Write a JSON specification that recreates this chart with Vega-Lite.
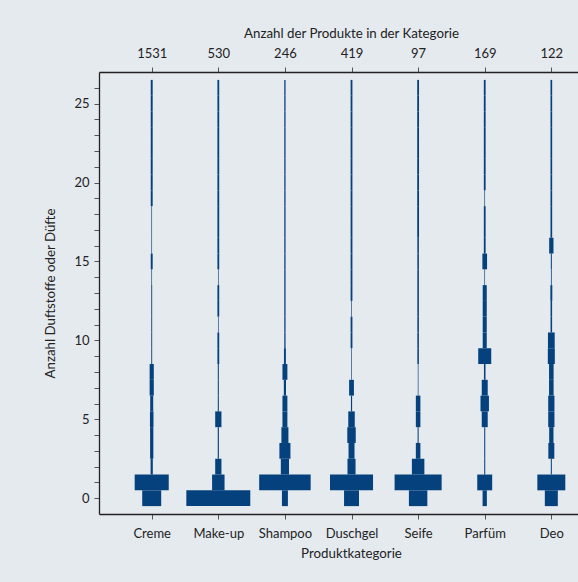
{
  "$schema": "https://vega.github.io/schema/vega-lite/v6.json",
  "width": 479,
  "height": 442,
  "autosize": {"type": "none"},
  "padding": {"left": 99, "top": 72, "right": 0, "bottom": 68},
  "background": "#e5eaef",
  "config": {
    "view": {"stroke": null},
    "font": "Lato",
    "axis": {
      "grid": false,
      "domainColor": "#222222",
      "domainWidth": 1.3,
      "tickColor": "#555555",
      "tickSize": 5,
      "tickWidth": 1,
      "labelFont": "Lato",
      "labelFontSize": 13,
      "labelColor": "#222222",
      "labelPadding": 5,
      "titleFont": "Lato",
      "titleFontSize": 13.3,
      "titleFontWeight": "normal",
      "titleColor": "#222222"
    }
  },
  "datasets": {
    "verteilung": [
      {"kategorie": "Creme", "duftstoffe": 0, "anteil": 14.6},
      {"kategorie": "Creme", "duftstoffe": 1, "anteil": 26.2},
      {"kategorie": "Creme", "duftstoffe": 2, "anteil": 1.7},
      {"kategorie": "Creme", "duftstoffe": 3, "anteil": 2.5},
      {"kategorie": "Creme", "duftstoffe": 4, "anteil": 2.5},
      {"kategorie": "Creme", "duftstoffe": 5, "anteil": 2.7},
      {"kategorie": "Creme", "duftstoffe": 6, "anteil": 2.3},
      {"kategorie": "Creme", "duftstoffe": 7, "anteil": 3.2},
      {"kategorie": "Creme", "duftstoffe": 8, "anteil": 3.2},
      {"kategorie": "Creme", "duftstoffe": 9, "anteil": 0.7},
      {"kategorie": "Creme", "duftstoffe": 10, "anteil": 0.7},
      {"kategorie": "Creme", "duftstoffe": 11, "anteil": 0.7},
      {"kategorie": "Creme", "duftstoffe": 12, "anteil": 0.7},
      {"kategorie": "Creme", "duftstoffe": 13, "anteil": 0.7},
      {"kategorie": "Creme", "duftstoffe": 14, "anteil": 0.5},
      {"kategorie": "Creme", "duftstoffe": 15, "anteil": 1.5},
      {"kategorie": "Creme", "duftstoffe": 16, "anteil": 0.5},
      {"kategorie": "Creme", "duftstoffe": 17, "anteil": 0.5},
      {"kategorie": "Creme", "duftstoffe": 18, "anteil": 0.5},
      {"kategorie": "Creme", "duftstoffe": 19, "anteil": 1.5},
      {"kategorie": "Creme", "duftstoffe": 20, "anteil": 1.5},
      {"kategorie": "Creme", "duftstoffe": 21, "anteil": 1.5},
      {"kategorie": "Creme", "duftstoffe": 22, "anteil": 1.5},
      {"kategorie": "Creme", "duftstoffe": 23, "anteil": 1.5},
      {"kategorie": "Creme", "duftstoffe": 24, "anteil": 1.5},
      {"kategorie": "Creme", "duftstoffe": 25, "anteil": 1.5},
      {"kategorie": "Creme", "duftstoffe": 26, "anteil": 1.5},

      {"kategorie": "Make-up", "duftstoffe": 0, "anteil": 49.2},
      {"kategorie": "Make-up", "duftstoffe": 1, "anteil": 9.6},
      {"kategorie": "Make-up", "duftstoffe": 2, "anteil": 4.8},
      {"kategorie": "Make-up", "duftstoffe": 3, "anteil": 0.9},
      {"kategorie": "Make-up", "duftstoffe": 4, "anteil": 0.9},
      {"kategorie": "Make-up", "duftstoffe": 5, "anteil": 4.8},
      {"kategorie": "Make-up", "duftstoffe": 6, "anteil": 0.8},
      {"kategorie": "Make-up", "duftstoffe": 7, "anteil": 0.8},
      {"kategorie": "Make-up", "duftstoffe": 8, "anteil": 0.8},
      {"kategorie": "Make-up", "duftstoffe": 9, "anteil": 1.4},
      {"kategorie": "Make-up", "duftstoffe": 10, "anteil": 1.4},
      {"kategorie": "Make-up", "duftstoffe": 11, "anteil": 0.5},
      {"kategorie": "Make-up", "duftstoffe": 12, "anteil": 1.4},
      {"kategorie": "Make-up", "duftstoffe": 13, "anteil": 1.4},
      {"kategorie": "Make-up", "duftstoffe": 14, "anteil": 0.5},
      {"kategorie": "Make-up", "duftstoffe": 15, "anteil": 1.4},
      {"kategorie": "Make-up", "duftstoffe": 16, "anteil": 1.4},
      {"kategorie": "Make-up", "duftstoffe": 17, "anteil": 1.4},
      {"kategorie": "Make-up", "duftstoffe": 18, "anteil": 1.4},
      {"kategorie": "Make-up", "duftstoffe": 19, "anteil": 1.4},
      {"kategorie": "Make-up", "duftstoffe": 20, "anteil": 1.4},
      {"kategorie": "Make-up", "duftstoffe": 21, "anteil": 1.4},
      {"kategorie": "Make-up", "duftstoffe": 22, "anteil": 1.4},
      {"kategorie": "Make-up", "duftstoffe": 23, "anteil": 1.4},
      {"kategorie": "Make-up", "duftstoffe": 24, "anteil": 1.4},
      {"kategorie": "Make-up", "duftstoffe": 25, "anteil": 1.4},
      {"kategorie": "Make-up", "duftstoffe": 26, "anteil": 1.4},

      {"kategorie": "Shampoo", "duftstoffe": 0, "anteil": 4.6},
      {"kategorie": "Shampoo", "duftstoffe": 1, "anteil": 39.6},
      {"kategorie": "Shampoo", "duftstoffe": 2, "anteil": 6.3},
      {"kategorie": "Shampoo", "duftstoffe": 3, "anteil": 8.5},
      {"kategorie": "Shampoo", "duftstoffe": 4, "anteil": 5.4},
      {"kategorie": "Shampoo", "duftstoffe": 5, "anteil": 3.8},
      {"kategorie": "Shampoo", "duftstoffe": 6, "anteil": 3.8},
      {"kategorie": "Shampoo", "duftstoffe": 7, "anteil": 1.7},
      {"kategorie": "Shampoo", "duftstoffe": 8, "anteil": 3.8},
      {"kategorie": "Shampoo", "duftstoffe": 9, "anteil": 1.5},
      {"kategorie": "Shampoo", "duftstoffe": 10, "anteil": 1.0},
      {"kategorie": "Shampoo", "duftstoffe": 11, "anteil": 1.0},
      {"kategorie": "Shampoo", "duftstoffe": 12, "anteil": 1.0},
      {"kategorie": "Shampoo", "duftstoffe": 13, "anteil": 1.0},
      {"kategorie": "Shampoo", "duftstoffe": 14, "anteil": 1.0},
      {"kategorie": "Shampoo", "duftstoffe": 15, "anteil": 1.0},
      {"kategorie": "Shampoo", "duftstoffe": 16, "anteil": 1.0},
      {"kategorie": "Shampoo", "duftstoffe": 17, "anteil": 1.0},
      {"kategorie": "Shampoo", "duftstoffe": 18, "anteil": 1.0},
      {"kategorie": "Shampoo", "duftstoffe": 19, "anteil": 1.0},
      {"kategorie": "Shampoo", "duftstoffe": 20, "anteil": 1.0},
      {"kategorie": "Shampoo", "duftstoffe": 21, "anteil": 1.0},
      {"kategorie": "Shampoo", "duftstoffe": 22, "anteil": 1.0},
      {"kategorie": "Shampoo", "duftstoffe": 23, "anteil": 1.0},
      {"kategorie": "Shampoo", "duftstoffe": 24, "anteil": 1.0},
      {"kategorie": "Shampoo", "duftstoffe": 25, "anteil": 1.0},
      {"kategorie": "Shampoo", "duftstoffe": 26, "anteil": 1.0},

      {"kategorie": "Duschgel", "duftstoffe": 0, "anteil": 11.5},
      {"kategorie": "Duschgel", "duftstoffe": 1, "anteil": 33.1},
      {"kategorie": "Duschgel", "duftstoffe": 2, "anteil": 6.2},
      {"kategorie": "Duschgel", "duftstoffe": 3, "anteil": 4.6},
      {"kategorie": "Duschgel", "duftstoffe": 4, "anteil": 6.5},
      {"kategorie": "Duschgel", "duftstoffe": 5, "anteil": 5.0},
      {"kategorie": "Duschgel", "duftstoffe": 6, "anteil": 0.9},
      {"kategorie": "Duschgel", "duftstoffe": 7, "anteil": 3.7},
      {"kategorie": "Duschgel", "duftstoffe": 8, "anteil": 0.5},
      {"kategorie": "Duschgel", "duftstoffe": 9, "anteil": 0.5},
      {"kategorie": "Duschgel", "duftstoffe": 10, "anteil": 1.4},
      {"kategorie": "Duschgel", "duftstoffe": 11, "anteil": 1.4},
      {"kategorie": "Duschgel", "duftstoffe": 12, "anteil": 0.5},
      {"kategorie": "Duschgel", "duftstoffe": 13, "anteil": 1.4},
      {"kategorie": "Duschgel", "duftstoffe": 14, "anteil": 1.4},
      {"kategorie": "Duschgel", "duftstoffe": 15, "anteil": 1.4},
      {"kategorie": "Duschgel", "duftstoffe": 16, "anteil": 1.4},
      {"kategorie": "Duschgel", "duftstoffe": 17, "anteil": 1.4},
      {"kategorie": "Duschgel", "duftstoffe": 18, "anteil": 1.4},
      {"kategorie": "Duschgel", "duftstoffe": 19, "anteil": 1.4},
      {"kategorie": "Duschgel", "duftstoffe": 20, "anteil": 1.4},
      {"kategorie": "Duschgel", "duftstoffe": 21, "anteil": 1.4},
      {"kategorie": "Duschgel", "duftstoffe": 22, "anteil": 1.4},
      {"kategorie": "Duschgel", "duftstoffe": 23, "anteil": 1.4},
      {"kategorie": "Duschgel", "duftstoffe": 24, "anteil": 1.4},
      {"kategorie": "Duschgel", "duftstoffe": 25, "anteil": 1.4},
      {"kategorie": "Duschgel", "duftstoffe": 26, "anteil": 1.4},

      {"kategorie": "Seife", "duftstoffe": 0, "anteil": 14.2},
      {"kategorie": "Seife", "duftstoffe": 1, "anteil": 36.2},
      {"kategorie": "Seife", "duftstoffe": 2, "anteil": 9.6},
      {"kategorie": "Seife", "duftstoffe": 3, "anteil": 3.5},
      {"kategorie": "Seife", "duftstoffe": 4, "anteil": 0.8},
      {"kategorie": "Seife", "duftstoffe": 5, "anteil": 3.5},
      {"kategorie": "Seife", "duftstoffe": 6, "anteil": 3.5},
      {"kategorie": "Seife", "duftstoffe": 7, "anteil": 0.5},
      {"kategorie": "Seife", "duftstoffe": 8, "anteil": 0.5},
      {"kategorie": "Seife", "duftstoffe": 9, "anteil": 1.2},
      {"kategorie": "Seife", "duftstoffe": 10, "anteil": 1.2},
      {"kategorie": "Seife", "duftstoffe": 11, "anteil": 1.2},
      {"kategorie": "Seife", "duftstoffe": 12, "anteil": 1.2},
      {"kategorie": "Seife", "duftstoffe": 13, "anteil": 1.2},
      {"kategorie": "Seife", "duftstoffe": 14, "anteil": 1.2},
      {"kategorie": "Seife", "duftstoffe": 15, "anteil": 1.2},
      {"kategorie": "Seife", "duftstoffe": 16, "anteil": 1.2},
      {"kategorie": "Seife", "duftstoffe": 17, "anteil": 1.4},
      {"kategorie": "Seife", "duftstoffe": 18, "anteil": 1.4},
      {"kategorie": "Seife", "duftstoffe": 19, "anteil": 1.4},
      {"kategorie": "Seife", "duftstoffe": 20, "anteil": 1.4},
      {"kategorie": "Seife", "duftstoffe": 21, "anteil": 1.4},
      {"kategorie": "Seife", "duftstoffe": 22, "anteil": 1.4},
      {"kategorie": "Seife", "duftstoffe": 23, "anteil": 1.4},
      {"kategorie": "Seife", "duftstoffe": 24, "anteil": 1.4},
      {"kategorie": "Seife", "duftstoffe": 25, "anteil": 1.4},
      {"kategorie": "Seife", "duftstoffe": 26, "anteil": 1.4},

      {"kategorie": "Parfüm", "duftstoffe": 0, "anteil": 3.3},
      {"kategorie": "Parfüm", "duftstoffe": 1, "anteil": 11.5},
      {"kategorie": "Parfüm", "duftstoffe": 2, "anteil": 0.8},
      {"kategorie": "Parfüm", "duftstoffe": 3, "anteil": 0.8},
      {"kategorie": "Parfüm", "duftstoffe": 4, "anteil": 0.8},
      {"kategorie": "Parfüm", "duftstoffe": 5, "anteil": 4.6},
      {"kategorie": "Parfüm", "duftstoffe": 6, "anteil": 6.5},
      {"kategorie": "Parfüm", "duftstoffe": 7, "anteil": 4.6},
      {"kategorie": "Parfüm", "duftstoffe": 8, "anteil": 1.2},
      {"kategorie": "Parfüm", "duftstoffe": 9, "anteil": 10.0},
      {"kategorie": "Parfüm", "duftstoffe": 10, "anteil": 3.1},
      {"kategorie": "Parfüm", "duftstoffe": 11, "anteil": 3.1},
      {"kategorie": "Parfüm", "duftstoffe": 12, "anteil": 3.1},
      {"kategorie": "Parfüm", "duftstoffe": 13, "anteil": 3.1},
      {"kategorie": "Parfüm", "duftstoffe": 14, "anteil": 0.5},
      {"kategorie": "Parfüm", "duftstoffe": 15, "anteil": 3.6},
      {"kategorie": "Parfüm", "duftstoffe": 16, "anteil": 1.4},
      {"kategorie": "Parfüm", "duftstoffe": 17, "anteil": 1.4},
      {"kategorie": "Parfüm", "duftstoffe": 18, "anteil": 1.4},
      {"kategorie": "Parfüm", "duftstoffe": 19, "anteil": 0.5},
      {"kategorie": "Parfüm", "duftstoffe": 20, "anteil": 1.4},
      {"kategorie": "Parfüm", "duftstoffe": 21, "anteil": 1.4},
      {"kategorie": "Parfüm", "duftstoffe": 22, "anteil": 1.4},
      {"kategorie": "Parfüm", "duftstoffe": 23, "anteil": 1.4},
      {"kategorie": "Parfüm", "duftstoffe": 24, "anteil": 1.4},
      {"kategorie": "Parfüm", "duftstoffe": 25, "anteil": 1.4},
      {"kategorie": "Parfüm", "duftstoffe": 26, "anteil": 1.4},

      {"kategorie": "Deo", "duftstoffe": 0, "anteil": 10.0},
      {"kategorie": "Deo", "duftstoffe": 1, "anteil": 21.5},
      {"kategorie": "Deo", "duftstoffe": 2, "anteil": 0.8},
      {"kategorie": "Deo", "duftstoffe": 3, "anteil": 4.6},
      {"kategorie": "Deo", "duftstoffe": 4, "anteil": 3.3},
      {"kategorie": "Deo", "duftstoffe": 5, "anteil": 4.8},
      {"kategorie": "Deo", "duftstoffe": 6, "anteil": 4.8},
      {"kategorie": "Deo", "duftstoffe": 7, "anteil": 3.5},
      {"kategorie": "Deo", "duftstoffe": 8, "anteil": 3.5},
      {"kategorie": "Deo", "duftstoffe": 9, "anteil": 5.4},
      {"kategorie": "Deo", "duftstoffe": 10, "anteil": 5.2},
      {"kategorie": "Deo", "duftstoffe": 11, "anteil": 1.2},
      {"kategorie": "Deo", "duftstoffe": 12, "anteil": 1.2},
      {"kategorie": "Deo", "duftstoffe": 13, "anteil": 1.5},
      {"kategorie": "Deo", "duftstoffe": 14, "anteil": 0.6},
      {"kategorie": "Deo", "duftstoffe": 15, "anteil": 0.8},
      {"kategorie": "Deo", "duftstoffe": 16, "anteil": 3.3},
      {"kategorie": "Deo", "duftstoffe": 17, "anteil": 1.3},
      {"kategorie": "Deo", "duftstoffe": 18, "anteil": 1.3},
      {"kategorie": "Deo", "duftstoffe": 19, "anteil": 1.3},
      {"kategorie": "Deo", "duftstoffe": 20, "anteil": 1.3},
      {"kategorie": "Deo", "duftstoffe": 21, "anteil": 1.3},
      {"kategorie": "Deo", "duftstoffe": 22, "anteil": 1.3},
      {"kategorie": "Deo", "duftstoffe": 23, "anteil": 1.3},
      {"kategorie": "Deo", "duftstoffe": 24, "anteil": 1.3},
      {"kategorie": "Deo", "duftstoffe": 25, "anteil": 1.3},
      {"kategorie": "Deo", "duftstoffe": 26, "anteil": 1.3}
    ],
    "summen": [
      {"kategorie": "Creme", "produkte": 1531},
      {"kategorie": "Make-up", "produkte": 530},
      {"kategorie": "Shampoo", "produkte": 246},
      {"kategorie": "Duschgel", "produkte": 419},
      {"kategorie": "Seife", "produkte": 97},
      {"kategorie": "Parfüm", "produkte": 169},
      {"kategorie": "Deo", "produkte": 122}
    ]
  },
  "layer": [
    {
      "data": {"name": "verteilung"},
      "mark": {"type": "tick", "orient": "horizontal", "thickness": 15.8, "opacity": 1, "color": "#05427d"},
      "encoding": {
        "x": {
          "field": "kategorie",
          "type": "nominal",
          "sort": ["Creme", "Make-up", "Shampoo", "Duschgel", "Seife", "Parfüm", "Deo"],
          "scale": {"type": "point", "padding": 0.596, "align": 0.664},
          "axis": {"orient": "bottom", "title": "Produktkategorie", "labelAngle": 0, "labelPadding": 8, "titlePadding": 6, "titleX": 252}
        },
        "y": {
          "field": "duftstoffe",
          "type": "quantitative",
          "scale": {"domain": [-1, 27], "nice": false, "zero": false},
          "axis": {
            "title": "Anzahl Duftstoffe oder Düfte",
            "values": [0, 1, 2, 3, 4, 5, 6, 7, 8, 9, 10, 11, 12, 13, 14, 15, 16, 17, 18, 19, 20, 21, 22, 23, 24, 25, 26],
            "labelExpr": "datum.value % 5 === 0 ? datum.label : ''",
            "labelPadding": 5,
            "titlePadding": 16
          }
        },
        "size": {
          "field": "anteil",
          "type": "quantitative",
          "scale": {"type": "linear", "domain": [0, 50], "range": [0, 65], "zero": true},
          "legend": null
        }
      }
    },
    {
      "data": {"name": "summen"},
      "mark": {"type": "rule", "opacity": 0},
      "encoding": {
        "x": {
          "field": "produkte",
          "type": "nominal",
          "sort": null,
          "scale": {"type": "point", "padding": 0.596, "align": 0.664},
          "axis": {"orient": "top", "title": "Anzahl der Produkte in der Kategorie", "labelAngle": 0, "labelPadding": 7, "titlePadding": 7, "titleX": 252}
        }
      }
    }
  ],
  "resolve": {"scale": {"x": "independent"}, "axis": {"x": "independent"}}
}
